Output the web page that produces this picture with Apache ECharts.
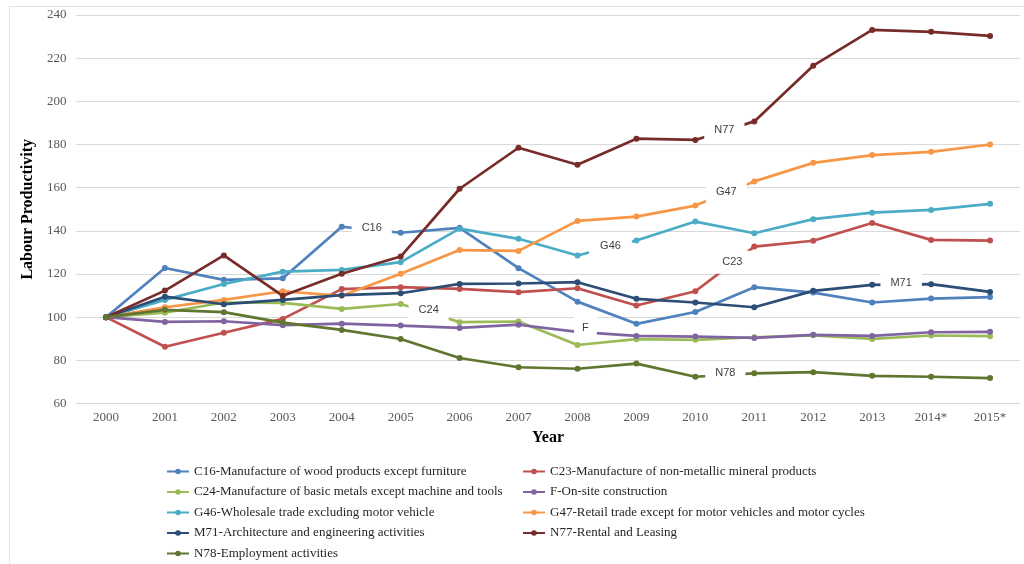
<!DOCTYPE html>
<html>
<head>
<meta charset="utf-8">
<script src="https://cdn.jsdelivr.net/npm/echarts@6/dist/echarts.min.js"></script>
<style>
html,body{margin:0;padding:0;background:#fff;}
#chart{width:1024px;height:564px;}
</style>
</head>
<body>
<div id="chart"></div>
<script>
const years = ['2000','2001','2002','2003','2004','2005','2006','2007','2008','2009','2010','2011','2012','2013','2014*','2015*'];
const yTicks = [60, 80, 100, 120, 140, 160, 180, 200, 220, 240];

const C16 = [100, 122.8, 117.3, 118, 141.9, 139.1, 141.4, 122.7, 107.2, 96.9, 102.4, 113.9, 111.4, 106.8, 108.6, 109.3];
const C23 = [100, 86.3, 92.8, 99.2, 113, 113.9, 113.1, 111.6, 113.4, 105.4, 112, 132.7, 135.4, 143.6, 135.8, 135.5];
const C24 = [100, 102.1, 106.8, 106.6, 103.8, 106.1, 97.7, 98, 87.1, 89.8, 89.5, 90.7, 91.6, 89.9, 91.5, 91.2];
const F   = [100, 97.8, 98.1, 96.3, 97, 96.1, 95, 96.5, 93.2, 91.3, 91, 90.4, 91.8, 91.3, 93, 93.2];
const G46 = [100, 108, 115.4, 121.1, 121.9, 125.5, 141, 136.3, 128.6, 135.5, 144.3, 138.9, 145.4, 148.4, 149.7, 152.5];
const G47 = [100, 104.6, 108, 112, 109.9, 120.1, 131.1, 130.7, 144.6, 146.6, 151.7, 162.9, 171.5, 175.1, 176.6, 180];
const M71 = [100, 109.5, 106, 108, 110.2, 111.1, 115.4, 115.6, 116.2, 108.5, 106.8, 104.6, 112.2, 115, 115.3, 111.7];
const N77 = [100, 112.3, 128.6, 109.9, 120.1, 128.1, 159.5, 178.5, 170.6, 182.7, 182.1, 190.7, 216.5, 233.1, 232.2, 230.3];
const N78 = [100, 103.4, 102.3, 97.5, 94.1, 89.9, 81.1, 76.8, 76.1, 78.5, 72.4, 74, 74.5, 72.8, 72.4, 71.8];

const codes = ['C16','C23','C24','F','G46','G47','M71','N77','N78'];
const names = [
  'C16-Manufacture of wood products except furniture',
  'C23-Manufacture of non-metallic mineral products',
  'C24-Manufacture of basic metals except machine and tools',
  'F-On-site construction',
  'G46-Wholesale trade excluding motor vehicle',
  'G47-Retail trade except for motor vehicles and motor cycles',
  'M71-Architecture and engineering activities',
  'N77-Rental and Leasing',
  'N78-Employment activities'
];
const values = [C16, C23, C24, F, G46, G47, M71, N77, N78];
const colors = ['#4F81BD','#C0504D','#9BBB59','#8064A2','#4BACC6','#F79646','#2C4D75','#772C2A','#5F7530'];

// in-chart code labels: [category index the label hangs on, x offset px, y offset px, horizontal padding]
const labelSpec = {
  C16: [4, 30, 1, 10],
  C24: [5, 28, 6, 10],
  F:   [8, 8, -4, 8],
  G46: [8, 33, -9, 11],
  N77: [10, 29, -10, 10],
  G47: [10, 31, -14, 10],
  C23: [10, 37, -29, 9],
  M71: [13, 29, -2, 10],
  N78: [10, 30, -4, 10]
};

const serif = '"Liberation Serif","Times New Roman",serif';
const sans = '"Liberation Sans",Arial,sans-serif';

const series = [];
values.forEach((vals, k) => {
  series.push({
    name: names[k],
    type: 'line',
    data: vals,
    symbol: 'circle',
    symbolSize: 6,
    lineStyle: { width: 2.7, color: colors[k] },
    itemStyle: { color: colors[k] },
    z: 2,
    animation: false
  });
});
codes.forEach((code, k) => {
  const spec = labelSpec[code];
  if (!spec) return;
  series.push({
    name: code + ' label',
    type: 'scatter',
    data: values[k].map((v, i) => (i === spec[0] ? v : '-')),
    symbol: 'rect',
    symbolSize: 0,
    itemStyle: { color: '#ffffff', opacity: 1 },
    silent: true,
    z: 6,
    zlevel: 1,
    animation: false,
    label: {
      show: true,
      position: 'inside',
      offset: [spec[1], spec[2]],
      formatter: code,
      backgroundColor: '#ffffff',
      opacity: 1,
      padding: [6, spec[3]],
      fontFamily: sans,
      fontSize: 11,
      color: '#404040'
    }
  });
});

const legendLeft = [names[0], names[2], names[4], names[6], names[8]];
const legendRight = [names[1], names[3], names[5], names[7]];
const legendCommon = {
  orient: 'vertical',
  top: 465,
  padding: 0,
  itemWidth: 22,
  itemHeight: 7,
  itemGap: 7.5,
  textStyle: { fontFamily: serif, fontSize: 13, color: '#262626' },
  selectedMode: false
};

const option = {
  backgroundColor: '#ffffff',
  animation: false,
  grid: { left: 76.5, right: 4.5, top: 15, bottom: 160.5, containLabel: false },
  legend: [
    Object.assign({}, legendCommon, { left: 166, data: legendLeft }),
    Object.assign({}, legendCommon, { left: 522, data: legendRight })
  ],
  xAxis: {
    type: 'category',
    data: years,
    boundaryGap: true,
    name: 'Year',
    nameLocation: 'middle',
    nameGap: 26,
    nameTextStyle: { fontFamily: serif, fontSize: 16, fontWeight: 'bold', color: '#000' },
    axisLine: { show: true, lineStyle: { color: '#d9d9d9' } },
    axisTick: { show: false },
    axisLabel: { fontFamily: serif, fontSize: 13, color: '#595959', margin: 8 }
  },
  yAxis: {
    type: 'value',
    min: yTicks[0],
    max: yTicks[yTicks.length - 1],
    interval: yTicks[1] - yTicks[0],
    name: 'Labour Productivity',
    nameLocation: 'middle',
    nameGap: 38,
    nameTextStyle: { fontFamily: serif, fontSize: 16, fontWeight: 'bold', color: '#000' },
    axisLine: { show: false },
    axisTick: { show: false },
    splitLine: { lineStyle: { color: '#d9d9d9', width: 1 } },
    axisLabel: { fontFamily: serif, fontSize: 13, color: '#595959', margin: 10 }
  },
  graphic: [{
    type: 'rect',
    left: 7, top: 4,
    shape: { width: 1100, height: 700 },
    style: { fill: 'none', stroke: '#e3e3e3', lineWidth: 1 },
    silent: true, z: -1
  }],
  series: series
};

const chart = echarts.init(document.getElementById('chart'), null, { renderer: 'canvas' });
chart.setOption(option);
</script>
</body>
</html>
